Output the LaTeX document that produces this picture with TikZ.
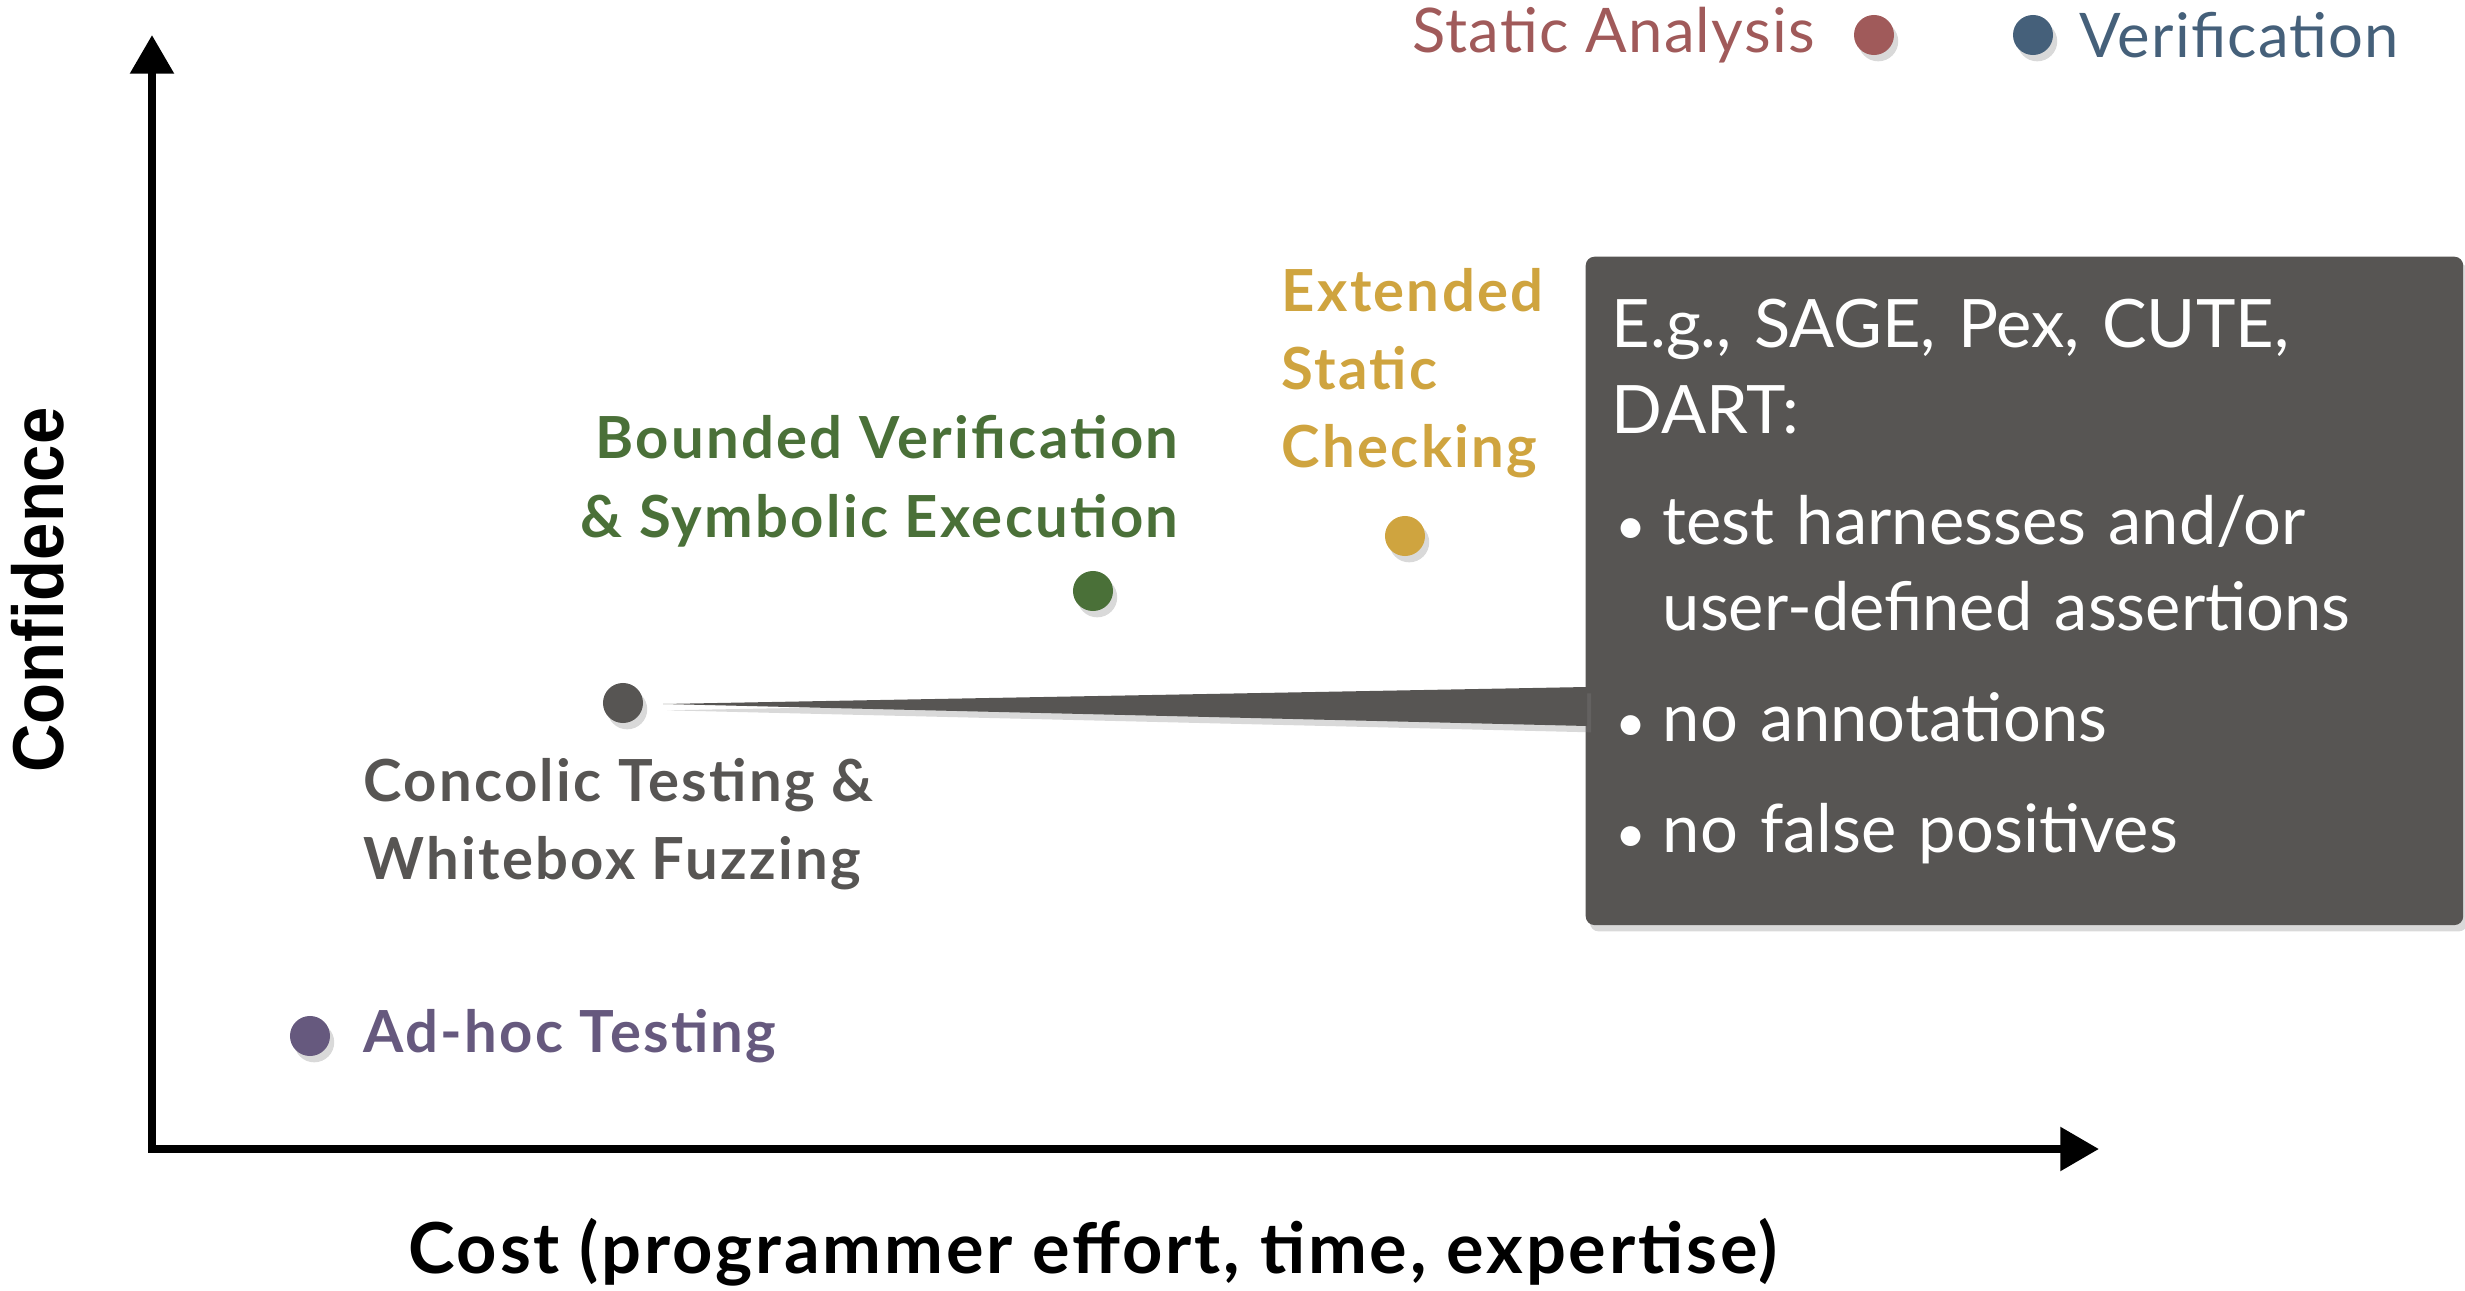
\documentclass[tikz,border=0pt]{standalone}
\usepackage{fontspec}
\setmainfont{Lato}
\newfontfamily\narrowfont{Liberation Sans}
\usetikzlibrary{positioning,calc,shadows,arrows.meta}
\definecolor{sared}{HTML}{A05A5A}
\definecolor{vblue}{HTML}{45607A}
\definecolor{escgold}{HTML}{CFA43F}
\definecolor{bvgreen}{HTML}{4A7038}
\definecolor{cctgray}{HTML}{575553}
\definecolor{ahpurple}{HTML}{66597E}
\newcommand\bul{\makebox[14.5pt][l]{\hspace{1pt}\scalebox{0.8}{\textbullet}}}
\newcommand\bulskip{\hspace*{14.5pt}}
\tikzset{
  axis/.style={line width=2.3pt, {Triangle[width=12pt,length=11pt]}-{Triangle[width=12pt,length=11pt]}},
  softshadow/.style={drop shadow={shadow xshift=1.2pt,shadow yshift=-1.8pt,opacity=0.3}},
  tooldot/.style={circle, fill=#1, minimum size=0.4cm, inner sep=0pt, softshadow},
  tool/.style={text=#1, font=\fontsize{16.5}{22.2}\selectfont\bfseries\addfontfeature{LetterSpace=4}, inner sep=0pt},
  legend/.style={text=#1, font=\fontsize{17.5}{20}\selectfont\addfontfeature{LetterSpace=2}, inner sep=0pt},
  callout/.style={fill=cctgray, rounded corners=2.5pt, text=white, align=left,
    text width=8.25cm, inner xsep=0.26cm, minimum height=6.68cm,
    font=\fontsize{19}{24.5}\selectfont, softshadow}
}
\begin{document}
\begin{tikzpicture}[x=0.01cm,y=-0.01cm]
\useasboundingbox (0,0) rectangle (2465,1291);

% axes
\coordinate (ytip) at (152,35);
\coordinate (xtip) at (2099,1149);
\draw[axis] (ytip) |- (xtip);
\node[rotate=90, anchor=base, inner sep=0pt, font=\narrowfont\bfseries\fontsize{20.5}{24}\selectfont] (conf) at (64,590) {\scalebox{0.93}[1]{Confidence}};
\node[anchor=base, inner sep=0pt, font=\bfseries\fontsize{20}{24}\selectfont\addfontfeature{LetterSpace=4}] (cost) at (1093,1273) {Cost (programmer effort, time, expertise)};

% legend
\node[tooldot=sared] (sadot) at (1874,35) {};
\node[tooldot=vblue] (vdot) at (2033,35) {};
\node[legend=sared, left=0.38cm of sadot] (salabel) {Static Analysis};
\node[legend=vblue, right=0.25cm of vdot] (vlabel) {Verification};

% techniques
\node[tooldot=ahpurple] (ahdot) at (310,1036) {};
\node[tooldot=cctgray] (cctdot) at (623,703) {};
\node[tooldot=bvgreen] (bvdot) at (1093,591) {};
\node[tooldot=escgold] (escdot) at (1405,536) {};
\node[tool=ahpurple, right=0.32cm of ahdot] (ahlabel) {Ad-hoc Testing};
\node[tool=cctgray, anchor=north west, align=left] (cctlabel) at (363,758) {Concolic Testing \&\\Whitebox Fuzzing};
\node[tool=bvgreen, anchor=north east, align=right] (bvlabel) at (1179,415) {Bounded Verification\\\& Symbolic Execution};
\node[tool=escgold, anchor=north west, align=left] (esclabel) at (1281,268) {Extended\\Static\\Checking};

% callout
\node[callout, anchor=north west] (harness) at (1585,256) {E.g., SAGE, Pex, CUTE,\\
DART:\\[7pt]
\bul test harnesses and/or\\
\bulskip user-defined assertions\\[7pt]
\bul no annotations\\[7pt]
\bul no false positives\rule[-8.6pt]{0pt}{0pt}};
\coordinate (tip) at ($(cctdot.center)+(40,1)$);
\fill[cctgray, softshadow] (tip) -- ($(harness.north west)+(2,431)$) -- ($(harness.north west)+(2,470)$) -- cycle;
\end{tikzpicture}
\end{document}
